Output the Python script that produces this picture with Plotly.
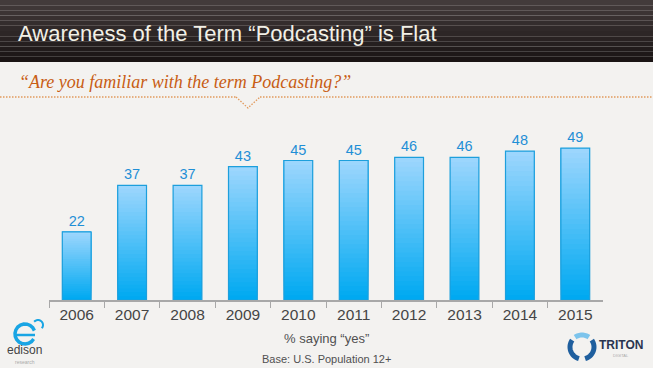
import math
import plotly.graph_objects as go

years = ["2006", "2007", "2008", "2009", "2010", "2011", "2012", "2013", "2014", "2015"]
values = [22, 37, 37, 43, 45, 45, 46, 46, 48, 49]

title_text = "Awareness of the Term “Podcasting” is Flat"
question_text = "“Are you familiar with the term Podcasting?”"
axis_title = "% saying “yes”"
base_text = "Base: U.S. Population 12+"

W, H = 653, 368

def px_x(x):
    return x / W

def px_y(y):
    return 1 - y / H

def lerp_color(c1, c2, t):
    a = [int(c1[i:i + 2], 16) for i in (1, 3, 5)]
    b = [int(c2[i:i + 2], 16) for i in (1, 3, 5)]
    return "rgb(%d,%d,%d)" % tuple(round(a[i] + (b[i] - a[i]) * t) for i in range(3))

fig = go.Figure()

# gradient bars: each layer spans from its base up to the bar top, later layers overlay earlier
N = 30
for k in range(N):
    t = k / (N - 1)
    fig.add_trace(go.Bar(
        x=years,
        y=[v * (N - k) / N for v in values],
        base=[v * k / N for v in values],
        marker=dict(color=lerp_color("#00a9f1", "#9cd6fd", t), line=dict(width=0)),
        width=0.52,
        hoverinfo="skip",
        showlegend=False,
    ))

# outline + value labels
fig.add_trace(go.Bar(
    x=years,
    y=values,
    marker=dict(color="rgba(0,0,0,0)", line=dict(color="#1d9fdc", width=1.2)),
    width=0.52,
    text=[str(v) for v in values],
    textposition="outside",
    textfont=dict(color="#1f8fd6", size=14.5, family="Liberation Sans, Arial, sans-serif"),
    cliponaxis=False,
    showlegend=False,
))

shapes = []
# header band gradient
bands = 12
for i in range(bands):
    y0 = 62 * i / bands
    y1 = 62 * (i + 1) / bands
    shapes.append(dict(type="rect", xref="paper", yref="paper",
                       x0=0, x1=1, y0=px_y(y1), y1=px_y(y0),
                       fillcolor=lerp_color("#433b3b", "#1a1414", i / (bands - 1)),
                       line=dict(width=0), layer="below"))
# dotted separator with notch
dot = dict(color="#e29a5c", width=1.3, dash="1.5px,1.5px")
shapes.append(dict(type="line", xref="paper", yref="paper", x0=0, x1=px_x(236),
                   y0=px_y(97), y1=px_y(97), line=dot))
shapes.append(dict(type="line", xref="paper", yref="paper", x0=px_x(260), x1=1,
                   y0=px_y(97), y1=px_y(97), line=dot))
shapes.append(dict(type="path", xref="paper", yref="paper",
                   path="M %f,%f L %f,%f L %f,%f" % (px_x(236), px_y(97), px_x(248), px_y(108), px_x(260), px_y(97)),
                   line=dot))

def arc_path(cx, cy, r, a0, a1, steps=16):
    pts = []
    for s in range(steps + 1):
        a = math.radians(a0 + (a1 - a0) * s / steps)
        pts.append((px_x(cx + r * math.cos(a)), px_y(cy - r * math.sin(a))))
    return "M " + " L ".join("%f,%f" % p for p in pts)

# edison logo approximation: "e" ring with orbit
shapes.append(dict(type="path", xref="paper", yref="paper",
                   path=arc_path(25, 334, 10, 20, 330), line=dict(color="#19a5e4", width=3.5)))
shapes.append(dict(type="line", xref="paper", yref="paper",
                   x0=px_x(15), x1=px_x(35), y0=px_y(335), y1=px_y(335),
                   line=dict(color="#19a5e4", width=2.5)))
shapes.append(dict(type="path", xref="paper", yref="paper",
                   path=arc_path(38, 325, 5, -40, 140), line=dict(color="#19a5e4", width=2)))
# triton logo approximation: broken ring of three arcs
shapes.append(dict(type="path", xref="paper", yref="paper",
                   path=arc_path(582, 347, 12, 55, 125), line=dict(color="#7cc4ec", width=5)))
shapes.append(dict(type="path", xref="paper", yref="paper",
                   path=arc_path(582, 347, 12, 145, 255), line=dict(color="#1f5f9e", width=5)))
shapes.append(dict(type="path", xref="paper", yref="paper",
                   path=arc_path(582, 347, 12, 285, 395), line=dict(color="#1f5f9e", width=5)))

annotations = [
    dict(text=title_text, xref="paper", yref="paper", x=px_x(16), y=px_y(33),
         xanchor="left", yanchor="middle", showarrow=False,
         font=dict(size=22, color="#f2f0e6", family="Liberation Sans, Arial, sans-serif")),
    dict(text="<i>" + question_text + "</i>", xref="paper", yref="paper", x=px_x(17), y=px_y(82),
         xanchor="left", yanchor="middle", showarrow=False,
         font=dict(size=18, color="#c85d14", family="Liberation Serif, Georgia, serif")),
    dict(text=axis_title, xref="paper", yref="paper", x=px_x(326), y=px_y(338),
         xanchor="center", yanchor="middle", showarrow=False,
         font=dict(size=13, color="#505050", family="Liberation Sans, Arial, sans-serif")),
    dict(text=base_text, xref="paper", yref="paper", x=px_x(326), y=px_y(359),
         xanchor="center", yanchor="middle", showarrow=False,
         font=dict(size=11, color="#505050", family="Liberation Sans, Arial, sans-serif")),
    dict(text="edison", xref="paper", yref="paper", x=px_x(25), y=px_y(350),
         xanchor="center", yanchor="middle", showarrow=False,
         font=dict(size=12, color="#444444", family="Liberation Sans, Arial, sans-serif")),
    dict(text="research", xref="paper", yref="paper", x=px_x(25), y=px_y(362),
         xanchor="center", yanchor="middle", showarrow=False,
         font=dict(size=5, color="#aaaaaa", family="Liberation Sans, Arial, sans-serif")),
    dict(text="<b>TRITON</b>", xref="paper", yref="paper", x=px_x(621), y=px_y(345),
         xanchor="center", yanchor="middle", showarrow=False,
         font=dict(size=12, color="#2a3550", family="Liberation Sans Narrow, Liberation Sans, Arial, sans-serif")),
    dict(text="DIGITAL", xref="paper", yref="paper", x=px_x(621), y=px_y(355),
         xanchor="center", yanchor="middle", showarrow=False,
         font=dict(size=4, color="#aaaaaa", family="Liberation Sans, Arial, sans-serif")),
]

fig.update_layout(
    width=W, height=H,
    margin=dict(l=0, r=0, t=0, b=0),
    paper_bgcolor="#f3f2f0",
    plot_bgcolor="#f3f2f0",
    barmode="overlay",
    showlegend=False,
    shapes=shapes,
    annotations=annotations,
    xaxis=dict(domain=[px_x(49), px_x(603)], showline=True, linecolor="#a8a8a8", linewidth=1.5,
               ticks="outside", tickson="boundaries", ticklen=6, tickcolor="#a8a8a8",
               tickfont=dict(size=15.5, color="#454545", family="Liberation Sans, Arial, sans-serif"),
               showgrid=False, fixedrange=True),
    yaxis=dict(domain=[px_y(300), px_y(114)], range=[0, 60], visible=False,
               showgrid=False, zeroline=False, fixedrange=True),
)

fig.write_html(
    "out.html",
    config={"displayModeBar": False},
    post_script="document.body.style.margin='0';document.body.style.overflow='hidden';",
)
